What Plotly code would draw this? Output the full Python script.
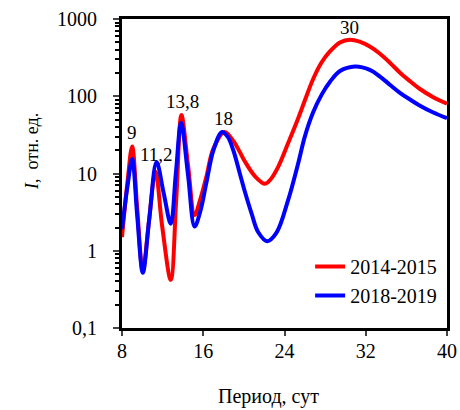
import plotly.graph_objects as go

# Red series: 2014-2015
x_2014 = [8.0, 8.55, 9.0, 9.5, 10.05, 10.65, 11.3, 11.95, 12.8, 13.35, 13.85, 14.5, 15.15, 15.7, 16.3, 17.0, 18.1, 19.0, 19.6, 20.1, 21.1, 22.07, 22.6, 23.39, 24.37, 25.35, 26.0, 26.8, 27.66, 28.47, 29.46, 30.44, 31.4, 32.4, 33.4, 34.4, 35.4, 36.4, 37.3, 38.6, 40.0]
y_2014 = [1.5, 8.0, 22.4, 3.5, 0.55, 2.4, 10.6, 2.1, 0.42, 4.9, 57.0, 12.9, 2.9, 4.6, 9.0, 21.0, 34.5, 26.0, 19.0, 14.3, 9.2, 7.36, 8.3, 12.3, 25.0, 52.0, 88.0, 165.0, 275.0, 380.0, 497.0, 540.0, 508.0, 440.0, 355.0, 270.0, 200.0, 155.0, 125.0, 98.0, 80.0]

# Blue series: 2018-2019
x_2018 = [8.0, 8.55, 9.0, 9.5, 10.05, 10.7, 11.4, 12.1, 12.8, 13.3, 13.82, 14.5, 15.15, 15.7, 16.3, 17.0, 17.85, 18.4, 18.96, 19.6, 20.1, 20.77, 21.4, 22.3, 23.2, 24.37, 25.35, 26.0, 26.8, 27.66, 28.5, 29.46, 30.93, 32.4, 33.4, 34.4, 35.4, 36.4, 37.3, 38.6, 40.0]
y_2018 = [1.9, 7.0, 15.4, 2.8, 0.52, 2.7, 14.1, 5.6, 2.24, 10.0, 45.0, 9.6, 2.06, 3.2, 7.5, 20.0, 34.5, 30.0, 20.0, 10.0, 5.8, 3.0, 1.75, 1.33, 1.7, 4.6, 13.6, 30.0, 61.0, 105.0, 155.0, 212.0, 243.0, 220.0, 180.0, 140.0, 110.0, 90.0, 76.0, 62.0, 52.0]

# Peak labels
peak_x = [8.95, 11.41, 14.0, 18.04, 30.44]
peak_logy = [1.527, 1.243, 1.929, 1.709, 2.887]
peak_text = ["9", "11,2", "13,8", "18", "30"]

x_ticks = [8, 16, 24, 32, 40]
y_ticks = [0.1, 1, 10, 100, 1000]
y_tick_text = ["0,1", "1", "10", "100", "1000"]

FONT = "Liberation Serif, Times New Roman, serif"

W, H = 460, 410
L, R, T, B = 122, 13, 19, 82
PW, PH = W - L - R, H - T - B

fig = go.Figure()
fig.add_trace(go.Scatter(x=x_2014, y=y_2014, mode="lines", name="2014-2015",
                         line=dict(color="#FF0000", width=4, shape="spline", smoothing=1.0)))
fig.add_trace(go.Scatter(x=x_2018, y=y_2018, mode="lines", name="2018-2019",
                         line=dict(color="#0000FF", width=4, shape="spline", smoothing=1.0)))

for px, py, t in zip(peak_x, peak_logy, peak_text):
    fig.add_annotation(x=px, y=py, text=t, showarrow=False, xref="x", yref="y",
                       font=dict(family=FONT, size=19, color="black"))

minor_vals = []
for dec in [0.1, 1, 10, 100]:
    for k in range(2, 10):
        minor_vals.append(dec * k)

fig.update_xaxes(range=[8, 40], tickvals=x_ticks, ticks="outside", ticklen=5, tickwidth=2,
                 showline=True, linewidth=3, linecolor="black", mirror=True, showgrid=False,
                 zeroline=False, automargin=False,
                 tickfont=dict(family=FONT, size=20, color="black"), ticklabelstandoff=-2)
fig.update_yaxes(type="log", range=[-1, 3], tickvals=y_ticks, ticktext=y_tick_text,
                 ticks="outside", ticklen=6, tickwidth=2,
                 minor=dict(tickvals=minor_vals, ticks="outside", ticklen=4, tickwidth=2,
                            tickcolor="black", showgrid=False),
                 showline=True, linewidth=3, linecolor="black", mirror=True, showgrid=False,
                 zeroline=False, automargin=False,
                 tickfont=dict(family=FONT, size=20, color="black"), ticklabelstandoff=12)

# Axis titles placed as paper annotations
fig.add_annotation(text="Период, сут", x=(268 - L) / PW, y=-(397 - (H - B)) / PH,
                   xref="paper", yref="paper", xanchor="center", yanchor="middle",
                   showarrow=False, font=dict(family=FONT, size=20, color="black"))
fig.add_annotation(text="<i>I</i>,  отн. ед.", x=-(L - 32) / PW, y=((H - B) - 152) / PH,
                   xref="paper", yref="paper", xanchor="center", yanchor="middle",
                   showarrow=False, textangle=-90, font=dict(family=FONT, size=18, color="black"))

fig.update_layout(
    width=W, height=H,
    margin=dict(l=L, r=R, t=T, b=B),
    paper_bgcolor="white", plot_bgcolor="white",
    showlegend=True,
    legend=dict(x=0.985, y=(H - B - 281) / PH, xanchor="right", yanchor="middle",
                bgcolor="rgba(0,0,0,0)", font=dict(family=FONT, size=20, color="black"),
                tracegroupgap=0, itemwidth=30),
)

fig.write_html("out.html", config={"displayModeBar": False},
               post_script="document.body.style.margin='0';document.body.style.padding='0';")
